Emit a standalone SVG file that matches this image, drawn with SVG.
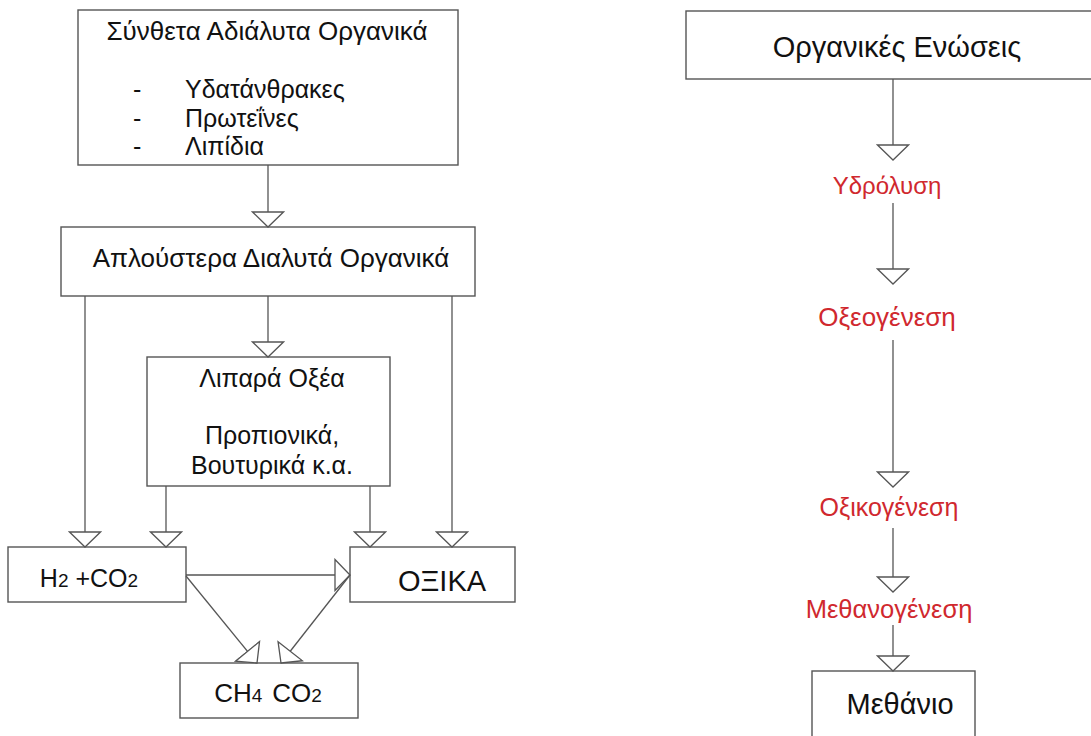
<svg xmlns="http://www.w3.org/2000/svg" width="1091" height="736" viewBox="0 0 1091 736">
<style>
.box{fill:#fff;stroke:#555;stroke-width:1.4}
.t{font-family:"Liberation Sans",Arial,sans-serif;fill:#111}
.s25{font-size:25px}
.s26{font-size:26px}
.s29{font-size:29px}
.sub{font-size:19px}
.m{text-anchor:middle}
.r{font-family:"Liberation Sans",Arial,sans-serif;fill:#d0282e;text-anchor:middle}
.c{stroke:#555;stroke-width:1.3;fill:none;marker-end:url(#ah)}
</style>
<defs>
<marker id="ah" markerUnits="userSpaceOnUse" viewBox="-1 -17 17 34" markerWidth="17" markerHeight="34" refX="15" refY="0" orient="auto">
<path d="M0,-15.5 L15,0 L0,15.5 Z" fill="#fff" stroke="#555" stroke-width="1.3"/>
</marker>
</defs>
<rect width="1091" height="736" fill="#fff"/>
<g id="n1">
<rect class="box" x="78" y="10" width="380" height="155"/>
<text class="t m s26" x="267" y="40">Σύνθετα Αδιάλυτα Οργανικά</text>
<text class="t s25" x="133" y="98">-</text>
<text class="t s25" x="185" y="98">Υδατάνθρακες</text>
<text class="t s25" x="133" y="127">-</text>
<text class="t s25" x="185" y="127">Πρωτεΐνες</text>
<text class="t s25" x="133" y="155">-</text>
<text class="t s25" x="185" y="155">Λιπίδια</text>
</g>
<g id="n2">
<rect class="box" x="61" y="227" width="414" height="69"/>
<text class="t m s26" x="271" y="267">Απλούστερα Διαλυτά Οργανικά</text>
</g>
<g id="n3">
<rect class="box" x="147" y="357" width="243" height="129"/>
<text class="t m s25" x="272" y="387">Λιπαρά Οξέα</text>
<text class="t m s25" x="272" y="444">Προπιονικά,</text>
<text class="t m s25" x="272" y="474">Βουτυρικά κ.α.</text>
</g>
<g id="n4">
<rect class="box" x="8" y="547" width="178" height="55"/>
<text class="t m s25" x="89" y="587">H<tspan class="sub">2</tspan> +CO<tspan class="sub">2</tspan></text>
</g>
<g id="n5">
<rect class="box" x="350" y="547" width="165" height="55"/>
<text class="t m s29" x="442" y="591">ΟΞΙΚΑ</text>
</g>
<g id="n6">
<rect class="box" x="180" y="663" width="178" height="55"/>
<text class="t m s26" x="268" y="702">CH<tspan class="sub">4</tspan><tspan dx="10">CO</tspan><tspan class="sub">2</tspan></text>
</g>
<g id="n7">
<rect class="box" x="686" y="11" width="410" height="68"/>
<text class="t m s29" x="897" y="57">Οργανικές Ενώσεις</text>
</g>
<g id="l1"><text class="r" x="887" y="194" style="font-size:24px">Υδρόλυση</text></g>
<g id="l2"><text class="r" x="887" y="326" style="font-size:26px">Οξεογένεση</text></g>
<g id="l3"><text class="r" x="889" y="516" style="font-size:25px">Οξικογένεση</text></g>
<g id="l4"><text class="r" x="889" y="618" style="font-size:25.5px">Μεθανογένεση</text></g>
<g id="n8">
<rect class="box" x="812" y="671" width="163" height="80"/>
<text class="t m s29" x="900" y="714">Μεθάνιο</text>
</g>
<g id="connectors">
<path class="c" d="M268,165 V227"/>
<path class="c" d="M268,296 V357"/>
<path class="c" d="M85,296 V547"/>
<path class="c" d="M452,296 V547"/>
<path class="c" d="M166,486 V547"/>
<path class="c" d="M370,486 V547"/>
<path class="c" d="M186,575 H350"/>
<path class="c" d="M186,576 L257,663"/>
<path class="c" d="M350,575 L281,663"/>
<path class="c" d="M893,79 V160"/>
<path class="c" d="M893,203 V284"/>
<path class="c" d="M893,340 V487"/>
<path class="c" d="M893,528 V592"/>
<path class="c" d="M893,625 V671"/>
</g>
</svg>
